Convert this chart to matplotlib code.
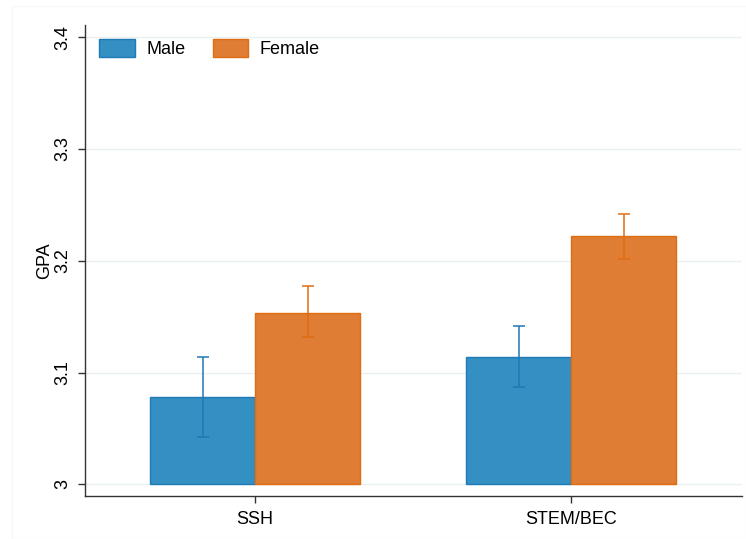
import numpy as np
import matplotlib.pyplot as plt
from matplotlib.patches import Rectangle

plt.rcParams['font.family'] = ['Liberation Sans', 'DejaVu Sans']

categories = ['SSH', 'STEM/BEC']
groups = ['Male', 'Female']
gpa_male = [3.078, 3.114]
gpa_female = [3.153, 3.222]
ci_male_low = [3.042, 3.087]
ci_male_high = [3.114, 3.142]
ci_female_low = [3.132, 3.202]
ci_female_high = [3.177, 3.242]

fill_colors = ['#348fc3', '#de7d33']
edge_colors = ['#1f7ab5', '#e06d12']

fig = plt.figure(figsize=(7.46, 5.39), dpi=100)
fig.patches.append(Rectangle((12 / 746, 0), 1 - 12 / 746, 1 - 6 / 539, transform=fig.transFigure,
                             fill=False, edgecolor='#f6f6f6', linewidth=0.8))
ax = fig.add_axes([85 / 746, 43 / 539, 657 / 746, 471 / 539])

x = np.arange(len(categories))
w = 0.332
series = [(gpa_male, ci_male_low, ci_male_high), (gpa_female, ci_female_low, ci_female_high)]
for i, (vals, lo, hi) in enumerate(series):
    pos = x + (i - 0.5) * w
    vals = np.array(vals)
    ax.bar(pos, vals - 3, bottom=3, width=w, color=fill_colors[i], edgecolor=edge_colors[i],
           linewidth=1.0, label=groups[i], zorder=2)
    ax.errorbar(pos, vals, yerr=[vals - np.array(lo), np.array(hi) - vals], fmt='none',
                ecolor=edge_colors[i], elinewidth=1.3, capsize=4, capthick=1.3, alpha=0.85, zorder=3)

ax.set_xlim(-0.538, 1.54)
ax.set_ylim(2.9895, 3.411)
ax.set_yticks([3, 3.1, 3.2, 3.3, 3.4])
ax.set_yticklabels(['3', '3.1', '3.2', '3.3', '3.4'], rotation=90, va='center')
ax.set_xticks(x)
ax.set_xticklabels(categories)
ax.set_ylabel('GPA', fontsize=13, labelpad=1)
ax.tick_params(axis='both', labelsize=13, length=5, width=1, color='#333333')
ax.tick_params(axis='y', pad=5)
ax.tick_params(axis='x', pad=6)
ax.grid(axis='y', color='#e8f0f2', linewidth=1.0, zorder=0)
ax.set_axisbelow(True)
for s in ['top', 'right']:
    ax.spines[s].set_visible(False)
for s in ['left', 'bottom']:
    ax.spines[s].set_color('#333333')
    ax.spines[s].set_linewidth(1.0)

ax.legend(loc='upper left', ncol=2, frameon=False, fontsize=13, handlelength=1.95, handleheight=1.1,
          columnspacing=1.5, handletextpad=0.65, borderaxespad=0.0, bbox_to_anchor=(0.011, 0.985))

fig.savefig('out.png', dpi=100)
